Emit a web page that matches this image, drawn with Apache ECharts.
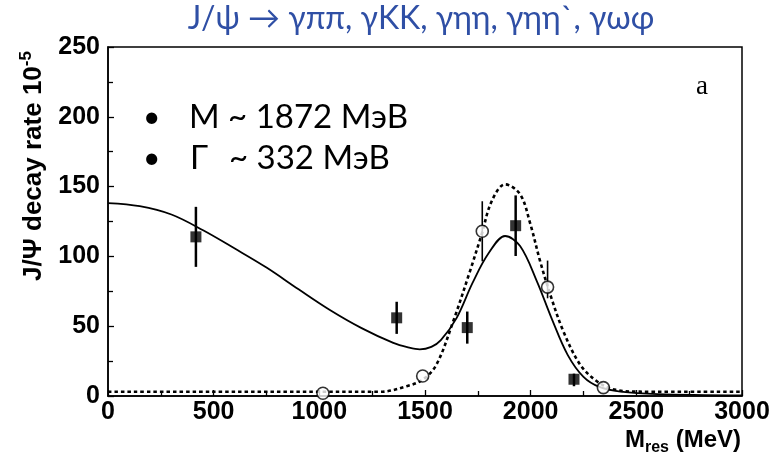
<!DOCTYPE html>
<html>
<head>
<meta charset="utf-8">
<script src="https://cdn.jsdelivr.net/npm/echarts@6/dist/echarts.min.js"></script>
<style>html,body{margin:0;padding:0;background:#fff}#c{width:774px;height:465px}</style>
</head>
<body>
<div id="c"></div>
<script>
// ---- data ----
const titleText = 'J/ψ → γππ, γKK, γηη, γηη`, γωφ';
const legendLine1 = 'M ~ 1872 МэВ';
const legendLine2a = 'Γ';
const legendLine2b = '~ 332 МэВ';
const panelLabel = 'a';

// filled squares
const squaresX = [416, 1366, 1700, 1929, 2205];
const squaresY = [114, 56, 49, 122, 12];
const squaresErrDown = [21.5, 11.5, 11.5, 21.7, 5];
const squaresErrUp = [21.5, 11.5, 11.5, 21.7, 4];

// open circles
const circlesX = [1017, 1489, 1771, 2080, 2344];
const circlesY = [2, 14.3, 118, 78, 6];
const circlesErrDown = [0, 0, 21.5, 8, 0];
const circlesErrUp = [0, 0, 21.5, 19, 0];

// solid fit curve
const solidX = [0, 150, 300, 450, 600, 750, 900, 1050, 1200, 1350, 1420, 1475, 1530, 1575, 1650, 1725, 1800, 1879, 1950, 2030, 2100, 2175, 2250, 2325, 2425, 2600, 3000];
const solidY = [138.2, 136, 130, 118.7, 105.6, 92, 76.6, 61.6, 48.6, 38, 34.8, 33.4, 35.2, 40, 56, 81, 102, 114.6, 107.4, 82, 55.3, 29.5, 13.7, 6.5, 3.2, 1.4, 0.5];

// dotted fit curve
const dottedX = [0, 500, 1000, 1287, 1413, 1492, 1555, 1634, 1713, 1768, 1816, 1879, 1950, 1997, 2044, 2092, 2154, 2233, 2312, 2391, 2517, 3000];
const dottedY = [3, 3, 3, 3, 7, 12, 22.7, 53.7, 89.5, 115.8, 139.7, 151.6, 144.5, 124, 97, 73, 46.6, 22.7, 10.7, 4.8, 3.1, 3];

const xMin = 0, xMax = 3000, xInterval = 500;
const yMin = 0, yMax = 250, yInterval = 50;

// ---- build ----
const zip = (a, b) => a.map((v, i) => [v, b[i]]);
const sqPts = zip(squaresX, squaresY);
const ciPts = zip(circlesX, circlesY);
const errData = [];
squaresX.forEach((x, i) => errData.push([x, squaresY[i] - squaresErrDown[i], squaresY[i] + squaresErrUp[i], 2.5]));
circlesX.forEach((x, i) => { if (circlesErrUp[i] || circlesErrDown[i]) errData.push([x, circlesY[i] - circlesErrDown[i], circlesY[i] + circlesErrUp[i], 1.6]); });

const tickFont = {fontFamily: 'Liberation Sans', fontWeight: 'bold', fontSize: 25, color: '#000'};

const chart = echarts.init(document.getElementById('c'), null, {renderer: 'canvas'});
chart.setOption({
  animation: false,
  backgroundColor: '#fff',
  grid: {left: 108, right: 32, top: 47, bottom: 69, show: true, borderColor: '#000', borderWidth: 1.5, backgroundColor: 'transparent'},
  xAxis: {
    type: 'value', min: xMin, max: xMax, interval: xInterval,
    axisLine: {show: true, onZero: false, lineStyle: {color: '#000', width: 1.5}},
    axisTick: {show: true, inside: true, length: 6, lineStyle: {color: '#000', width: 1.3}},
    minorTick: {show: true, splitNumber: 2, length: 5, lineStyle: {color: '#000', width: 1.3}},
    splitLine: {show: false},
    axisLabel: Object.assign({margin: 4, formatter: v => String(v)}, tickFont)
  },
  yAxis: {
    type: 'value', min: yMin, max: yMax, interval: yInterval,
    axisLine: {show: true, onZero: false, lineStyle: {color: '#000', width: 1.5}},
    axisTick: {show: true, inside: true, length: 6, lineStyle: {color: '#000', width: 1.3}},
    minorTick: {show: true, splitNumber: 2, length: 5, lineStyle: {color: '#000', width: 1.3}},
    splitLine: {show: false},
    axisLabel: Object.assign({margin: 8, formatter: v => String(v)}, tickFont)
  },
  series: [
    {type: 'line', data: zip(solidX, solidY), smooth: 0.35, showSymbol: false, symbol: 'none',
     lineStyle: {color: '#000', width: 1.8}, z: 2},
    {type: 'line', data: zip(dottedX, dottedY), smooth: 0.35, showSymbol: false, symbol: 'none',
     lineStyle: {color: '#000', width: 2.6, type: [3.5, 3], cap: 'butt'}, z: 2},
    {type: 'custom', data: errData, z: 3,
     renderItem: function (params, api) {
       const x = api.value(0);
       const p1 = api.coord([x, api.value(1)]);
       const p2 = api.coord([x, api.value(2)]);
       return {type: 'line', shape: {x1: p1[0], y1: p1[1], x2: p2[0], y2: p2[1]},
               style: {stroke: '#000', lineWidth: api.value(3)}};
     }},
    {type: 'scatter', data: sqPts, symbol: 'rect', symbolSize: 11, itemStyle: {color: '#000'}, z: 4},
    {type: 'scatter', data: ciPts, symbol: 'circle', symbolSize: 12,
     itemStyle: {color: '#fff', borderColor: '#000', borderWidth: 1.6}, z: 4}
  ],
  graphic: [
    {type: 'text', x: 421, y: 19, style: {text: titleText, fontFamily: 'Lato', fontSize: 32, fill: '#2f4fa5', align: 'center', verticalAlign: 'middle'}},
    {type: 'text', x: 143, y: 117, style: {text: '•', fontFamily: 'Lato', fontSize: 30, fill: '#000', verticalAlign: 'middle'}},
    {type: 'text', x: 189, y: 117, style: {text: legendLine1, fontFamily: 'Lato', fontSize: 33, fill: '#000', verticalAlign: 'middle'}},
    {type: 'text', x: 143, y: 158, style: {text: '•', fontFamily: 'Lato', fontSize: 30, fill: '#000', verticalAlign: 'middle'}},
    {type: 'text', x: 190, y: 158, style: {text: legendLine2a, fontFamily: 'Lato', fontSize: 33, fill: '#000', verticalAlign: 'middle'}},
    {type: 'text', x: 229, y: 158, style: {text: legendLine2b, fontFamily: 'Lato', fontSize: 33, fill: '#000', verticalAlign: 'middle'}},
    {type: 'text', x: 702, y: 87, style: {text: panelLabel, fontFamily: 'Liberation Serif', fontSize: 27, fill: '#000', align: 'center', verticalAlign: 'middle'}},
    {type: 'text', x: 34, y: 166, rotation: Math.PI / 2, style: {
      text: 'J/Ψ decay rate 10{sup|-5}', align: 'center', verticalAlign: 'middle',
      fontFamily: 'Liberation Sans', fontWeight: 'bold', fontSize: 26, fill: '#000',
      rich: {sup: {fontFamily: 'Liberation Sans', fontWeight: 'bold', fontSize: 17, fill: '#000', padding: [0, 0, 15, 0]}}
    }},
    {type: 'text', x: 741, y: 440, style: {
      text: 'M{sub|res} (MeV)', align: 'right', verticalAlign: 'middle',
      fontFamily: 'Liberation Sans', fontWeight: 'bold', fontSize: 24, fill: '#000',
      rich: {sub: {fontFamily: 'Liberation Sans', fontWeight: 'bold', fontSize: 16, fill: '#000', padding: [16, 0, 0, 0]}}
    }}
  ]
});
</script>
</body>
</html>
